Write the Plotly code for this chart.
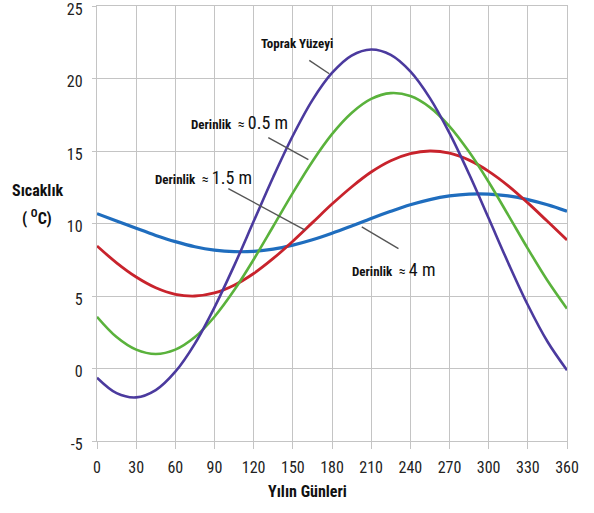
import plotly.graph_objects as go

days = [0, 15, 30, 45, 60, 75, 90, 105, 120, 135, 150, 165, 180, 195, 210,
        225, 240, 255, 270, 285, 300, 315, 330, 345, 360]

surface = [-0.63, -1.70, -1.99, -1.49, -0.22, 1.72, 4.22, 7.08, 10.15, 13.21, 16.05, 18.51, 20.38,
           21.58, 22.0, 21.63, 20.49, 18.65, 16.23, 13.41, 10.36, 7.28, 4.38, 1.86, -0.12]
depth_05 = [3.57, 2.17, 1.30, 1.00, 1.30, 2.17, 3.57, 5.39, 7.52, 9.81, 12.11, 14.28, 16.16,
            17.62, 18.59, 18.99, 18.79, 18.01, 16.70, 14.94, 12.86, 10.58, 8.27, 6.07, 4.13]
depth_15 = [8.45, 7.29, 6.31, 5.57, 5.12, 5.00, 5.21, 5.74, 6.55, 7.59, 8.78, 10.06, 11.34,
            12.52, 13.55, 14.33, 14.82, 15.0, 14.85, 14.37, 13.60, 12.60, 11.42, 10.15, 8.87]
depth_4 = [10.68, 10.18, 9.67, 9.18, 8.75, 8.40, 8.17, 8.06, 8.08, 8.23, 8.51, 8.88, 9.33,
           9.83, 10.35, 10.84, 11.29, 11.65, 11.90, 12.03, 12.03, 11.90, 11.65, 11.29, 10.84]

x_ticks = [0, 30, 60, 90, 120, 150, 180, 210, 240, 270, 300, 330, 360]
y_ticks = [-5, 0, 5, 10, 15, 20, 25]

FONT = "Liberation Sans Narrow, Roboto Condensed, Arial Narrow, Liberation Sans, Arial, sans-serif"

fig = go.Figure()
series = [
    (depth_4, "#1F6DBE", 3.2, "Derinlik ≈ 4 m"),
    (depth_15, "#C8232C", 2.8, "Derinlik ≈ 1.5 m"),
    (depth_05, "#5AB23C", 2.6, "Derinlik ≈ 0.5 m"),
    (surface, "#4B3A9E", 2.6, "Toprak Yüzeyi"),
]
for vals, col, w, name in series:
    fig.add_trace(go.Scatter(x=days, y=vals, mode="lines", name=name,
                             line=dict(color=col, width=w, shape="spline", smoothing=1.0),
                             showlegend=False, hoverinfo="x+y"))

# pointer lines
pointers = [
    (162.6, 21.25, 177.9, 20.33),
    (131.2, 15.92, 161.9, 14.40),
    (100.6, 12.41, 159.4, 9.54),
    (202.8, 9.77, 230.9, 8.27),
]
for x0, y0, x1, y1 in pointers:
    fig.add_shape(type="line", x0=x0, y0=y0, x1=x1, y1=y1, xref="x", yref="y",
                  line=dict(color="#555555", width=1.4))

def label(big):
    return ("<b><span style='font-size:13px'>Derinlik</span></b>"
            "<span style='font-size:14px'>  ≈ </span>"
            f"<span style='font-size:18px'>{big}</span>")

fig.add_annotation(x=153, y=22.4, xref="x", yref="y", text="<b>Toprak Yüzeyi</b>",
                   showarrow=False, font=dict(family=FONT, size=13, color="#111111"))
fig.add_annotation(x=70.1, y=17.0, xref="x", yref="y", text=label("0.5 m"), xanchor="left",
                   yanchor="middle", showarrow=False, font=dict(family=FONT, size=13, color="#111111"))
fig.add_annotation(x=43.2, y=13.2, xref="x", yref="y", text=label("1.5 m"), xanchor="left",
                   yanchor="middle", showarrow=False, font=dict(family=FONT, size=13, color="#111111"))
fig.add_annotation(x=193.8, y=6.83, xref="x", yref="y", text=label("4 m"), xanchor="left",
                   yanchor="middle", showarrow=False, font=dict(family=FONT, size=13, color="#111111"))

# axis titles
fig.add_annotation(x=-0.1255, y=0.576, xref="paper", yref="paper", text="<b>Sıcaklık</b>",
                   xanchor="center", yanchor="middle",
                   showarrow=False, font=dict(family=FONT, size=16, color="#111111"))
fig.add_annotation(x=-0.128, y=0.513, xref="paper", yref="paper",
                   text="<b>( <sup>O</sup>C)</b>", xanchor="center", yanchor="middle",
                   showarrow=False, font=dict(family=FONT, size=16, color="#111111"))
fig.add_annotation(x=0.447, y=-0.1164, xref="paper", yref="paper", text="<b>Yılın Günleri</b>",
                   xanchor="center", yanchor="middle",
                   showarrow=False, font=dict(family=FONT, size=16, color="#111111"))

fig.update_xaxes(range=[0, 360], tickvals=x_ticks, ticktext=[str(v) for v in x_ticks],
                 showgrid=True, gridcolor="#C4C4C4", gridwidth=1.3,
                 showline=True, linecolor="#C4C4C4", linewidth=1.3, mirror=True,
                 ticks="outside", ticklen=7, tickcolor="#C4C4C4", tickwidth=1.3,
                 zeroline=False, automargin=False, ticklabeloverflow="allow",
                 ticklabelstandoff=5,
                 tickfont=dict(family=FONT, size=16, color="#222222"))
fig.update_yaxes(range=[-5, 25], tickvals=y_ticks, ticktext=[str(v) for v in y_ticks],
                 showgrid=True, gridcolor="#C4C4C4", gridwidth=1.3,
                 showline=True, linecolor="#C4C4C4", linewidth=1.3, mirror=True,
                 ticks="outside", ticklen=4, tickcolor="#C4C4C4", tickwidth=1.3,
                 zeroline=False, ticklabelstandoff=6, automargin=False,
                 ticklabeloverflow="allow", ticklabelshift=3,
                 tickfont=dict(family=FONT, size=16, color="#222222"))

fig.update_layout(width=594, height=513, autosize=False,
                  margin=dict(l=97, r=27, t=6, b=72),
                  plot_bgcolor="white", paper_bgcolor="white")

fig.write_html("out.html", config={"displayModeBar": False},
               post_script="document.body.style.margin='0';")
